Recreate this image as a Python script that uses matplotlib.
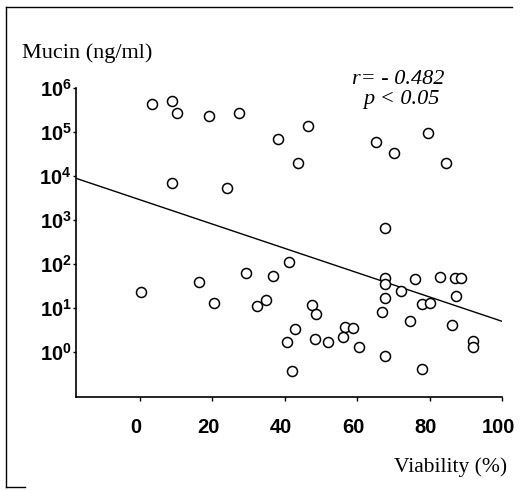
import numpy as np
import matplotlib
matplotlib.use("Agg")
import matplotlib.pyplot as plt
import matplotlib.transforms as mtrans
from matplotlib.lines import Line2D

# ---- data ----
viability = [3.3, 8.8, 10.2, 19.1, 27.3, 38.0, 46.3, 43.6, 65.3, 70.2, 79.6, 84.6,
             8.8, 24.0, 67.8, 41.2, 29.2, 36.6, 16.2, 0.3, 20.4, 32.2, 34.8,
             67.6, 67.8, 75.9, 82.8, 87.1, 88.8, 72.0, 67.8, 78.0, 80.0, 87.4,
             47.6, 48.7, 66.9, 74.5, 86.1, 42.7, 56.7, 58.8, 56.0, 48.3, 51.9,
             40.6, 60.4, 67.8, 91.9, 91.9, 41.9, 78.0]
log_mucin = [5.64, 5.70, 5.43, 5.36, 5.43, 4.84, 5.14, 4.30, 4.78, 4.52, 4.98, 4.30,
             3.84, 3.73, 2.82, 2.05, 1.80, 1.73, 1.59, 1.36, 1.11, 1.05, 1.18,
             1.68, 1.55, 1.66, 1.70, 1.68, 1.68, 1.39, 1.23, 1.09, 1.11, 1.27,
             1.07, 0.86, 0.91, 0.70, 0.61, 0.52, 0.57, 0.55, 0.34, 0.30, 0.23,
             0.23, 0.11, -0.09, 0.25, 0.11, -0.43, -0.39]
mucin = [10 ** v for v in log_mucin]

fit_intercept = 3.46   # log10 mucin at 0 % viability
fit_slope = -0.0276    # log10 units per % viability

x_ticks = [0, 20, 40, 60, 80, 100]
y_exponents = [0, 1, 2, 3, 4, 5, 6]

# ---- style ----
plt.rcParams['mathtext.fontset'] = 'custom'
plt.rcParams['mathtext.bf'] = 'Liberation Sans:bold'
plt.rcParams['mathtext.rm'] = 'Liberation Sans'

fig = plt.figure(figsize=(5.23, 4.91), dpi=100)
ax = fig.add_axes([76 / 523, 1 - 397 / 491, (502 - 76) / 523, (397 - 88) / 491])

ax.scatter(viability, mucin, s=52, facecolors='white', edgecolors='black',
           linewidths=1.1, zorder=3)

x_lo = -17.7
xl = np.array([x_lo, 100.0])
ax.plot(xl, 10 ** (fit_intercept + fit_slope * xl), color='black', lw=1.0, zorder=2)

ax.set_yscale('log')
ax.set_xlim(x_lo, 100)
ax.set_ylim(10 ** -1.02, 10 ** 6)

ax.set_xticks(x_ticks)
ax.set_xticklabels([str(t) for t in x_ticks], fontfamily='Liberation Sans',
                   fontweight='bold', fontsize=14.5)
ax.set_yticks([10 ** e for e in y_exponents])
ax.set_yticklabels([r'$\mathbf{10^{%d}}$' % e for e in y_exponents], fontsize=14.5)
ax.yaxis.set_minor_locator(matplotlib.ticker.NullLocator())

ax.tick_params(axis='x', direction='out', length=3, width=1, pad=12)
ax.tick_params(axis='y', direction='out', length=2, width=1, pad=1)

offset = mtrans.ScaledTranslation(-4 / 100, 0, fig.dpi_scale_trans)
for lab in ax.get_xticklabels():
    lab.set_transform(lab.get_transform() + offset)

for side in ['top', 'right']:
    ax.spines[side].set_visible(False)
for side in ['left', 'bottom']:
    ax.spines[side].set_linewidth(1.2)

fig.text(22 / 523, 1 - 58 / 491, 'Mucin (ng/ml)', fontfamily='Liberation Serif',
         fontsize=16, ha='left', va='baseline')
fig.text(398 / 523, 1 - 84 / 491, 'r= - 0.482', fontfamily='Liberation Serif',
         fontstyle='italic', fontsize=16, ha='center', va='baseline')
fig.text(402 / 523, 1 - 104 / 491, 'p < 0.05', fontfamily='Liberation Serif',
         fontstyle='italic', fontsize=16, ha='center', va='baseline')
fig.text(507 / 523, 1 - 472 / 491, 'Viability (%)', fontfamily='Liberation Serif',
         fontsize=15.5, ha='right', va='baseline')

# scanned frame (top and left edges)
fig.add_artist(Line2D([6 / 523, 512 / 523], [1 - 7 / 491, 1 - 7 / 491],
                      transform=fig.transFigure, color='black', lw=1.0))
fig.add_artist(Line2D([6 / 523, 6 / 523], [1 - 7 / 491, 1 - 487 / 491],
                      transform=fig.transFigure, color='black', lw=1.0))
fig.add_artist(Line2D([6 / 523, 25 / 523], [1 - 487 / 491, 1 - 487 / 491],
                      transform=fig.transFigure, color='black', lw=1.0))

fig.savefig('out.png', dpi=100)
